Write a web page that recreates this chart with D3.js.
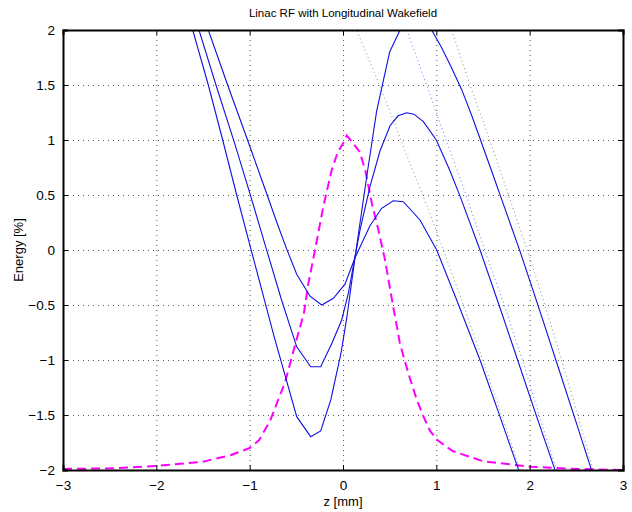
<!DOCTYPE html>
<html><head><meta charset="utf-8">
<script src="https://cdn.jsdelivr.net/npm/d3@7"></script>
<style>body{margin:0;background:#fff} svg{display:block}</style>
</head><body>
<svg id="c" width="632" height="512"></svg>
<script>
// ---- data ----
const xTicks = [-3, -2, -1, 0, 1, 2, 3];
const yTicks = [-2, -1.5, -1, -0.5, 0, 0.5, 1, 1.5, 2];
const title = "Linac RF with Longitudinal Wakefield";
const xLabel = "z [mm]";
const yLabel = "Energy [%]";

// RF + wakefield (solid), three phases
const zA = [-1.70, -1.610, -1.443, -1.289, -1.139, -0.990, -0.740, -0.496, -0.346, -0.239, -0.13, -0.02, 0.04, 0.13, 0.26, 0.36, 0.50, 0.611, 0.70, 0.76, 0.85, 0.95, 1.05, 1.15, 1.271, 1.38, 1.486, 1.60, 1.70, 1.80, 1.896, 2.10, 2.30, 2.48, 2.67];
const eA = [2.28, 2.00, 1.50, 1.00, 0.50, 0.02, -0.78, -1.515, -1.697, -1.645, -1.36, -0.93, -0.62, -0.06, 0.70, 1.26, 1.80, 2.00, 2.11, 2.13, 2.10, 2.00, 1.85, 1.68, 1.46, 1.22, 0.97, 0.70, 0.46, 0.22, -0.01, -0.53, -1.05, -1.52, -2.02];

const zB = [-1.62, -1.543, -1.361, -1.165, -0.996, -0.825, -0.66, -0.496, -0.346, -0.239, -0.12, -0.014, 0.057, 0.129, 0.182, 0.289, 0.396, 0.504, 0.59, 0.682, 0.76, 0.861, 1.0, 1.146, 1.254, 1.468, 1.68, 1.879, 2.075, 2.28];
const eB = [2.21, 2.00, 1.50, 0.98, 0.51, 0.02, -0.45, -0.88, -1.061, -1.061, -0.85, -0.636, -0.394, -0.06, 0.18, 0.576, 0.90, 1.13, 1.22, 1.248, 1.235, 1.167, 1.00, 0.72, 0.49, 0.00, -0.52, -1.02, -1.515, -2.02];

const zC = [-1.52, -1.443, -1.236, -1.014, -0.825, -0.70, -0.604, -0.496, -0.353, -0.228, -0.103, 0.021, 0.129, 0.289, 0.414, 0.539, 0.646, 0.825, 1.004, 1.218, 1.468, 1.682, 1.89];
const eC = [2.19, 2.00, 1.50, 0.98, 0.53, 0.23, 0.01, -0.22, -0.42, -0.50, -0.439, -0.31, -0.07, 0.22, 0.379, 0.448, 0.439, 0.273, 0.00, -0.455, -1.00, -1.515, -2.02];

// RF only (dotted), three phases
const zR1 = [0.10, 0.146, 0.361, 0.504, 0.682, 0.932, 1.075, 1.271, 1.504, 1.70, 1.896];
const eR1 = [2.09, 2.00, 1.561, 1.257, 0.864, 0.333, 0.00, -0.455, -1.015, -1.50, -2.00];
const zR2 = [0.64, 0.682, 0.90, 1.04, 1.20, 1.33, 1.45, 1.60, 1.72, 1.93, 2.10, 2.29];
const eR2 = [2.10, 2.00, 1.49, 1.15, 0.78, 0.47, 0.17, -0.20, -0.48, -1.02, -1.50, -2.00];
const zR3 = [1.12, 1.164, 1.36, 1.56, 1.77, 1.95, 2.10, 2.30, 2.50, 2.68];
const eR3 = [2.10, 2.00, 1.50, 1.03, 0.51, 0.06, -0.33, -0.88, -1.46, -2.00];

// bunch current profile (dashed)
const zP = [-3, -2.5, -2, -1.5, -1.2, -1.0, -0.9, -0.78, -0.62, -0.5, -0.42, -0.37, -0.30, -0.21, -0.12, -0.06, 0.0, 0.04, 0.11, 0.18, 0.24, 0.31, 0.38, 0.45, 0.52, 0.61, 0.70, 0.79, 0.86, 0.93, 1.0, 1.11, 1.18, 1.5, 2.0, 2.5, 3.0];
const eP = [-1.99, -1.985, -1.964, -1.924, -1.864, -1.80, -1.73, -1.55, -1.20, -0.82, -0.58, -0.30, 0.0, 0.40, 0.73, 0.88, 0.97, 1.04, 0.97, 0.89, 0.72, 0.42, 0.18, -0.09, -0.43, -0.85, -1.12, -1.36, -1.51, -1.64, -1.72, -1.79, -1.83, -1.92, -1.97, -1.99, -2.0];

// ---- drawing ----
const L = 63, R = 623, T = 30, B = 470;
const svg = d3.select("#c");
const font = "'Liberation Sans', Arial, Helvetica, sans-serif";
const x = d3.scaleLinear().domain([-3, 3]).range([L, R]);
const y = d3.scaleLinear().domain([-2, 2]).range([B, T]);

svg.append("rect").attr("width", 632).attr("height", 512).attr("fill", "#fff");
svg.append("defs").append("clipPath").attr("id", "clip")
  .append("rect").attr("x", L).attr("y", T).attr("width", R - L).attr("height", B - T);

// grid
const grid = svg.append("g");
grid.selectAll(".gx").data(xTicks.filter(d => d > -3 && d < 3)).join("line")
  .attr("x1", d => x(d) + 0.5).attr("x2", d => x(d) + 0.5).attr("y1", T).attr("y2", B)
  .attr("stroke", "#555").attr("stroke-width", 1).attr("stroke-dasharray", "1,4");
grid.selectAll(".gy").data(yTicks.filter(d => d > -2 && d < 2)).join("line")
  .attr("y1", d => Math.round(y(d)) + 0.5).attr("y2", d => Math.round(y(d)) + 0.5).attr("x1", L).attr("x2", R)
  .attr("stroke", "#555").attr("stroke-width", 1).attr("stroke-dasharray", "1,4");

const plot = svg.append("g").attr("clip-path", "url(#clip)");
const line = d3.line().x(d => x(d[0])).y(d => y(d[1]));
const pairs = (zs, es) => zs.map((z, i) => [z, es[i]]);

const dotted = [[zR1, eR1, "#8a8a8a"], [zR2, eR2, "#6f6fff"], [zR3, eR3, "#8a8a8a"]];
dotted.forEach(([zs, es, c]) => {
  plot.append("path").attr("d", line(pairs(zs, es))).attr("fill", "none")
    .attr("stroke", c).attr("stroke-width", 1).attr("stroke-dasharray", "1,3");
});

plot.append("path").attr("d", line(pairs(zP, eP))).attr("fill", "none")
  .attr("stroke", "#ff00ff").attr("stroke-width", 2).attr("stroke-dasharray", "9,5");

[[zA, eA], [zB, eB], [zC, eC]].forEach(([zs, es]) => {
  plot.append("path").attr("d", line(pairs(zs, es))).attr("fill", "none")
    .attr("stroke", "#1010e0").attr("stroke-width", 1.1);
});

// axes box with inward ticks
const axes = svg.append("g");
const tl = 5;
const fmt = d => (d < 0 ? "\u2212" : "") + String(Math.abs(d));
const xb = d3.axisBottom(x).tickValues(xTicks).tickSize(-tl).tickFormat(fmt).tickPadding(10);
const xt = d3.axisTop(x).tickValues(xTicks).tickSize(-tl).tickFormat("");
const yl = d3.axisLeft(y).tickValues(yTicks).tickSize(-tl).tickFormat(fmt).tickPadding(8);
const yr = d3.axisRight(y).tickValues(yTicks).tickSize(-tl).tickFormat("");
const gxb = axes.append("g").attr("transform", `translate(0,${B})`).call(xb);
const gxt = axes.append("g").attr("transform", `translate(0,${T})`).call(xt);
const gyl = axes.append("g").attr("transform", `translate(${L},0)`).call(yl);
const gyr = axes.append("g").attr("transform", `translate(${R},0)`).call(yr);
[gxb, gxt, gyl, gyr].forEach(g => {
  g.select(".domain").attr("stroke", "#000").attr("stroke-width", 2);
  g.selectAll(".tick line").attr("stroke", "#000").attr("stroke-width", 1);
  g.selectAll("text").attr("fill", "#000").style("font-family", font).style("font-size", "13.5px");
});
gxb.selectAll("text").attr("dy", "0.71em");
gyl.selectAll("text").attr("dy", "0.35em");

svg.append("text").attr("x", 343).attr("y", 17).attr("text-anchor", "middle")
  .style("font-family", font).style("font-size", "11.5px").text(title);
svg.append("text").attr("x", 343).attr("y", 506).attr("text-anchor", "middle")
  .style("font-family", font).style("font-size", "13px").text(xLabel);
svg.append("text").attr("transform", "translate(23,250) rotate(-90)").attr("text-anchor", "middle")
  .style("font-family", font).style("font-size", "13px").text(yLabel);
</script>
</body></html>
